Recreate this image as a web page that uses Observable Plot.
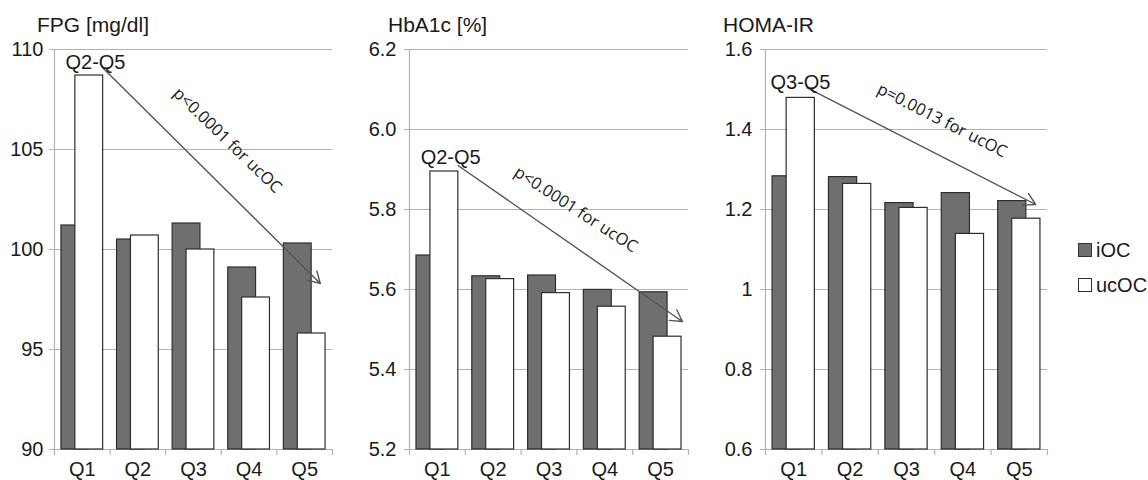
<!DOCTYPE html>
<html><head><meta charset="utf-8">
<script src="https://cdn.jsdelivr.net/npm/d3@7"></script>
<script src="https://cdn.jsdelivr.net/npm/@observablehq/plot@0.6"></script>
<style>
body{margin:0;background:#fff;}
#wrap{position:relative;width:1148px;height:480px;font-family:"Liberation Sans",Arial,sans-serif;color:#1a1a1a;overflow:hidden;}
.panel{position:absolute;top:0;}
.title{position:absolute;top:14px;font-size:21px;line-height:21px;white-space:nowrap;z-index:2;}
.leg{position:absolute;left:1078px;font-size:20px;line-height:20px;display:flex;align-items:center;white-space:nowrap;}
.sw{width:12px;height:12px;border:1px solid #333;margin-right:4px;box-sizing:content-box;}
</style></head>
<body><div id="wrap"></div>
<script>
// ---- data ----
const categories = ["Q1", "Q2", "Q3", "Q4", "Q5"];
const seriesNames = ["iOC", "ucOC"];

const fpgIOC   = [101.2, 100.5, 101.3, 99.1, 100.3];
const fpgUcOC  = [108.7, 100.7, 100.0, 97.6, 95.8];
const fpgTicks = [90, 95, 100, 105, 110];
const fpgTickLabels = ["90", "95", "100", "105", "110"];

const hbaIOC   = [5.685, 5.633, 5.635, 5.599, 5.593];
const hbaUcOC  = [5.895, 5.626, 5.591, 5.557, 5.482];
const hbaTicks = [5.2, 5.4, 5.6, 5.8, 6.0, 6.2];
const hbaTickLabels = ["5.2", "5.4", "5.6", "5.8", "6.0", "6.2"];

const homaIOC   = [1.283, 1.281, 1.216, 1.241, 1.221];
const homaUcOC  = [1.479, 1.264, 1.204, 1.139, 1.177];
const homaTicks = [0.6, 0.8, 1.0, 1.2, 1.4, 1.6];
const homaTickLabels = ["0.6", "0.8", "1", "1.2", "1.4", "1.6"];

const titles = ["FPG [mg/dl]", "HbA1c [%]", "HOMA-IR"];
const rangeLabels = ["Q2-Q5", "Q2-Q5", "Q3-Q5"];
const pLabels = ["p<0.0001 for ucOC", "p<0.0001 for ucOC", "p=0.0013 for ucOC"];

// ---- annotation anchors (data coordinates: x = quintile index) ----
const annotations = [
  {range: [1.237, 109.35], arrow: [1.38, 109.05, 5.28, 98.3], p: [3.61, 105.45], rot: 44},
  {range: [1.238, 5.93],   arrow: [1.37, 5.91, 5.39, 5.52],   p: [3.48, 5.80],   rot: 33},
  {range: [1.12, 1.5175],  arrow: [1.24, 1.504, 5.29, 1.2125], p: [3.63, 1.4225], rot: 27}
];

// ---- layout ----
const layout = [
  {left: 0,   width: 350, ml: 54, mr: 18, titleX: 37},
  {left: 355, width: 350, ml: 54, mr: 17, titleX: 388},
  {left: 711, width: 350, ml: 54, mr: 14, titleX: 723}
];

const panelsData = [
  {iOC: fpgIOC, ucOC: fpgUcOC, ticks: fpgTicks, labels: fpgTickLabels},
  {iOC: hbaIOC, ucOC: hbaUcOC, ticks: hbaTicks, labels: hbaTickLabels},
  {iOC: homaIOC, ucOC: homaUcOC, ticks: homaTicks, labels: homaTickLabels}
];

const DARK = "#6f6f6f", EDGE = "#2e2e2e", GRID = "#b2b2b2", TEXT = "#1a1a1a";
const wrap = document.getElementById("wrap");

panelsData.forEach((pd, k) => {
  const L = layout[k], A = annotations[k];
  const yMin = pd.ticks[0], yMax = pd.ticks[pd.ticks.length - 1];
  const rows = categories.map((c, i) => ({i: i + 1, cat: c, iOC: pd.iOC[i], ucOC: pd.ucOC[i]}));
  const idx = categories.map((c, i) => i + 1);
  const bounds = categories.map((c, i) => i + 1.5);

  const chart = Plot.plot({
    width: L.width, height: 480,
    marginLeft: L.ml, marginRight: L.mr, marginTop: 49, marginBottom: 31,
    style: {fontSize: "20px", fontFamily: "'Liberation Sans', Arial, sans-serif", background: "transparent", color: TEXT, overflow: "visible"},
    x: {type: "linear", domain: [0.5, 5.5], ticks: idx, tickFormat: (d) => categories[Math.round(d) - 1], tickSize: 0, tickPadding: 12, label: null},
    y: {domain: [yMin, yMax], ticks: pd.ticks, tickFormat: (d) => pd.labels[pd.ticks.indexOf(d)], tickSize: 0, tickPadding: k === 0 ? 11 : 13, label: null},
    marks: [
      Plot.ruleY(pd.ticks, {stroke: GRID, strokeWidth: 1.2, insetLeft: -5}),
      Plot.ruleX([0.5], {stroke: GRID, strokeWidth: 1.2, insetBottom: -6}),
      Plot.ruleX(bounds, {y1: yMin, y2: yMin, stroke: GRID, strokeWidth: 1.2, insetBottom: -6}),
      Plot.rect(rows, {x1: (d) => d.i - 0.375, x2: (d) => d.i + 0.125, y1: yMin, y2: "iOC", fill: DARK, stroke: EDGE, strokeWidth: 1.2}),
      Plot.rect(rows, {x1: (d) => d.i - 0.125, x2: (d) => d.i + 0.375, y1: yMin, y2: "ucOC", fill: "#ffffff", stroke: EDGE, strokeWidth: 1.2}),
      Plot.arrow([A.arrow], {x1: (d) => d[0], y1: (d) => d[1], x2: (d) => d[2], y2: (d) => d[3], stroke: "#555", strokeWidth: 1.4, headLength: 14}),
      Plot.text([rangeLabels[k]], {x: A.range[0], y: A.range[1], text: (d) => d, fontSize: 20, fill: TEXT, textAnchor: "middle"}),
      Plot.text([pLabels[k]], {x: A.p[0], y: A.p[1], text: (d) => d, rotate: A.rot, fontSize: 16.5, fontFamily: "'Open Sans', sans-serif", fill: TEXT, textAnchor: "middle"})
    ]
  });
  const holder = document.createElement("div");
  holder.className = "panel";
  holder.style.left = L.left + "px";
  holder.appendChild(chart);
  wrap.appendChild(holder);

  const t = document.createElement("div");
  t.className = "title";
  t.style.left = L.titleX + "px";
  t.textContent = titles[k];
  wrap.appendChild(t);
});

// legend
const legendTops = [240, 275];
seriesNames.forEach((name, j) => {
  const row = document.createElement("div");
  row.className = "leg";
  row.style.top = legendTops[j] + "px";
  const sw = document.createElement("div");
  sw.className = "sw";
  sw.style.background = j === 0 ? DARK : "#fff";
  row.appendChild(sw);
  const s = document.createElement("span");
  s.textContent = name;
  row.appendChild(s);
  wrap.appendChild(row);
});
</script>
</body></html>
